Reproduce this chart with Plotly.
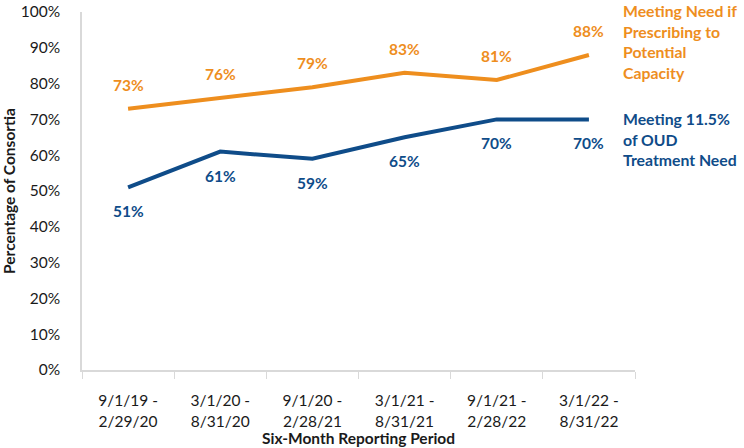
import plotly.graph_objects as go

periods = ["9/1/19 -<br>2/29/20", "3/1/20 -<br>8/31/20", "9/1/20 -<br>2/28/21",
           "3/1/21 -<br>8/31/21", "9/1/21 -<br>2/28/22", "3/1/22 -<br>8/31/22"]
potential = [0.73, 0.76, 0.79, 0.83, 0.81, 0.88]
meeting = [0.51, 0.61, 0.59, 0.65, 0.70, 0.70]
potential_name = "Meeting Need if<br>Prescribing to<br>Potential<br>Capacity"
meeting_name = "Meeting 11.5%<br>of OUD<br>Treatment Need"
x_title = "Six-Month Reporting Period"
y_title = "Percentage of Consortia"

ORANGE = "#EE8E1E"
BLUE = "#0F4C89"
FONT = "Lato"

fig = go.Figure()
fig.add_trace(go.Scatter(x=periods, y=potential, mode="lines",
                         line=dict(color=ORANGE, width=4), showlegend=False,
                         hoverinfo="skip"))
fig.add_trace(go.Scatter(x=periods, y=meeting, mode="lines",
                         line=dict(color=BLUE, width=4), showlegend=False,
                         hoverinfo="skip"))

ann = []
for p, v in zip(periods, potential):
    ann.append(dict(x=p, y=v, text=f"{round(v*100)}%", showarrow=False, yshift=24,
                    font=dict(color=ORANGE, size=15.5, family=FONT, weight="bold")))
for p, v in zip(periods, meeting):
    ann.append(dict(x=p, y=v, text=f"{round(v*100)}%", showarrow=False, yshift=-24,
                    font=dict(color=BLUE, size=15.5, family=FONT, weight="bold")))
ann.append(dict(xref="paper", yref="paper", x=1, xshift=-14, y=1, yshift=13,
                xanchor="left", yanchor="top", align="left", showarrow=False,
                text=potential_name,
                font=dict(color=ORANGE, size=15.8, family=FONT, weight="bold")))
ann.append(dict(xref="paper", yref="y", x=1, xshift=-14, y=meeting[-1], yshift=12,
                xanchor="left", yanchor="top", align="left", showarrow=False,
                text=meeting_name,
                font=dict(color=BLUE, size=15.8, family=FONT, weight="bold")))
ann.append(dict(xref="paper", yref="paper", x=0.5, y=0, yshift=-68,
                xanchor="center", yanchor="middle", showarrow=False,
                text=f"<b>{x_title}</b>",
                font=dict(color="#1a1a1a", size=15.5, family=FONT)))

fig.update_layout(
    width=744, height=448,
    margin=dict(l=82, r=109, t=12, b=78),
    paper_bgcolor="white", plot_bgcolor="white",
    font=dict(family=FONT, size=15, color="#1a1a1a"),
    annotations=ann,
    hovermode=False,
    xaxis=dict(showline=True, linecolor="#D9D9D9", linewidth=1.5, automargin=False,
               ticks="outside", tickson="boundaries", ticklen=7, tickcolor="#D9D9D9",
               showgrid=False, range=[-0.5, 5.5], ticklabelstandoff=16,
               tickfont=dict(size=15.5, family=FONT)),
    yaxis=dict(showline=True, linecolor="#D9D9D9", linewidth=1.5, automargin=False,
               range=[0, 1], dtick=0.1, tickformat=".0%", showgrid=False,
               zeroline=False, ticks="", ticklabelstandoff=17,
               title=dict(text=f"<b>{y_title}</b>", standoff=9,
                          font=dict(size=15.5, family=FONT)),
               tickfont=dict(size=15.5, family=FONT)),
)

fig.write_html("out.html", config={"displayModeBar": False},
               post_script="document.body.style.margin='0';")
